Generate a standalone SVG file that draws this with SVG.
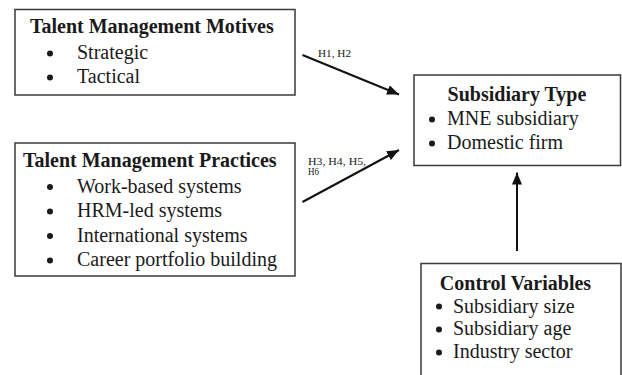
<svg xmlns="http://www.w3.org/2000/svg" width="622" height="375" viewBox="0 0 622 375">
<style>
.box{fill:#fff;stroke:#3a3a3a;stroke-width:1.5}
.t{font-family:"Liberation Serif","Times New Roman",serif;font-size:20px;fill:#1a1a1a}
.b{font-weight:bold}
.d{fill:#1a1a1a}
.s{font-family:"Liberation Serif","Times New Roman",serif;font-size:10px;fill:#1a1a1a}
.c{stroke:#111;stroke-width:2;fill:none}
</style>
<defs>
<marker id="ah" markerWidth="12" markerHeight="10" refX="12" refY="5" orient="auto" markerUnits="userSpaceOnUse">
<path d="M0,0 L12,5 L0,10 Z" fill="#111"/>
</marker>
</defs>
<rect width="622" height="375" fill="#fff"/>
<g id="motives">
<rect class="box" x="15" y="9.5" width="280" height="85.5"/>
<text class="t b" x="30" y="33">Talent Management Motives</text>
<circle class="d" cx="50" cy="53.5" r="3"/>
<text class="t" x="77" y="59">Strategic</text>
<circle class="d" cx="50" cy="77.5" r="3"/>
<text class="t" x="77" y="83">Tactical</text>
</g>
<g id="practices">
<rect class="box" x="15" y="143" width="280" height="133"/>
<text class="t b" x="23" y="167">Talent Management Practices</text>
<circle class="d" cx="50" cy="187" r="3"/>
<text class="t" x="77" y="192.5">Work-based systems</text>
<circle class="d" cx="50" cy="211.5" r="3"/>
<text class="t" x="77" y="217">HRM-led systems</text>
<circle class="d" cx="50" cy="236" r="3"/>
<text class="t" x="77" y="241.5">International systems</text>
<circle class="d" cx="50" cy="260.5" r="3"/>
<text class="t" x="77" y="266">Career portfolio building</text>
</g>
<g id="subsidiary">
<rect class="box" x="414" y="75" width="206.5" height="90.5"/>
<text class="t b" x="517" y="100.5" text-anchor="middle">Subsidiary Type</text>
<circle class="d" cx="432" cy="119.5" r="3"/>
<text class="t" x="447" y="125">MNE subsidiary</text>
<circle class="d" cx="432" cy="143.5" r="3"/>
<text class="t" x="447" y="149">Domestic firm</text>
</g>
<g id="controls">
<rect class="box" x="421" y="263.5" width="200" height="120"/>
<text class="t b" x="515.5" y="290" text-anchor="middle">Control Variables</text>
<circle class="d" cx="439" cy="306.5" r="3"/>
<text class="t" x="453" y="312.5">Subsidiary size</text>
<circle class="d" cx="439" cy="329.5" r="3"/>
<text class="t" x="453" y="335">Subsidiary age</text>
<circle class="d" cx="439" cy="352.5" r="3"/>
<text class="t" x="453" y="358">Industry sector</text>
</g>
<g id="connectors">
<line class="c" x1="302.5" y1="55" x2="399" y2="94.5" marker-end="url(#ah)"/>
<text class="s" x="318" y="57" textLength="33" lengthAdjust="spacingAndGlyphs">H1, H2</text>
<line class="c" x1="302.5" y1="202" x2="399" y2="150" marker-end="url(#ah)"/>
<text class="s" x="308" y="165" textLength="58" lengthAdjust="spacingAndGlyphs">H3, H4, H5,</text>
<text class="s" x="308" y="175" textLength="11" lengthAdjust="spacingAndGlyphs">H6</text>
<line class="c" x1="517" y1="251" x2="517" y2="172.5" marker-end="url(#ah)"/>
</g>
</svg>
